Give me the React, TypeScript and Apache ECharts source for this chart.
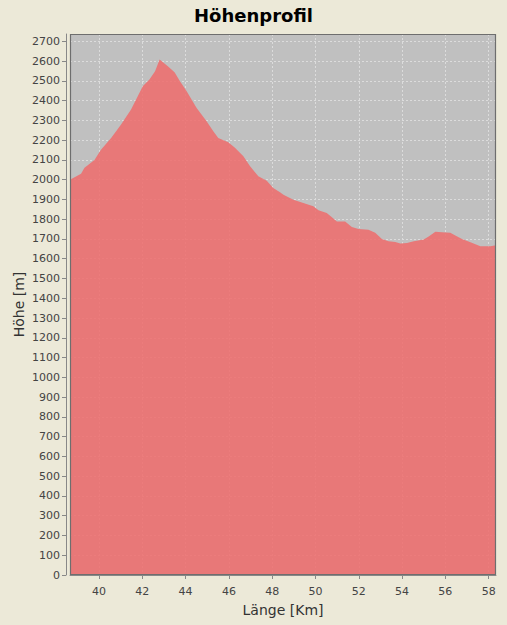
import React, { useEffect, useRef } from "react";
import * as echarts from "echarts";

const distanceKm = [
  38.66, 39.17, 39.33, 39.79, 40.09, 40.56, 41.02, 41.48, 41.79, 42.02, 42.33, 42.59, 42.8,
  43.18, 43.49, 43.74, 44.05, 44.51, 44.97, 45.28, 45.51, 45.97, 46.28, 46.67, 46.98, 47.36,
  47.75, 48.05, 48.36, 48.52, 48.98, 49.44, 49.9, 50.14, 50.52, 50.76, 50.99, 51.37, 51.68,
  51.99, 52.45, 52.76, 53.07, 53.38, 53.69, 53.92, 54.23, 54.54, 55.0, 55.23, 55.54, 55.85,
  56.23, 56.46, 56.77, 57.16, 57.62, 58.08, 58.34,
];
const elevationM = [
  2000, 2030, 2060, 2100, 2152, 2211, 2279, 2355, 2422, 2473, 2507, 2549, 2608,
  2574, 2543, 2498, 2447, 2363, 2296, 2245, 2211, 2189, 2161, 2118, 2068, 2017,
  1995, 1958, 1936, 1924, 1899, 1882, 1865, 1845, 1832, 1810, 1789, 1789, 1761,
  1751, 1747, 1731, 1700, 1688, 1685, 1677, 1680, 1688, 1697, 1713, 1736, 1734,
  1731, 1717, 1700, 1683, 1663, 1663, 1668,
];
const xTicks = [40, 42, 44, 46, 48, 50, 52, 54, 56, 58];
const yTicks = [
  0, 100, 200, 300, 400, 500, 600, 700, 800, 900, 1000, 1100, 1200, 1300, 1400, 1500, 1600,
  1700, 1800, 1900, 2000, 2100, 2200, 2300, 2400, 2500, 2600, 2700,
];
const xMin = 38.66;
const xMax = 58.34;
const yMin = 0;
const yMax = 2737;

export default function App() {
  const ref = useRef<HTMLDivElement>(null);
  useEffect(() => {
    document.body.style.margin = "0";
    if (!ref.current) return;
    const chart = echarts.init(ref.current, undefined, { renderer: "svg" });
    const font = "DejaVu Sans";
    const gridLeft = 70;
    const gridTop = 34;
    const gridRight = 11;
    const gridBottom = 50;
    const W = 507;
    const H = 625;
    chart.setOption({
      animation: false,
      backgroundColor: "#ECE9D8",
      title: {
        text: "Höhenprofil",
        left: "center",
        top: 1,
        textStyle: { fontFamily: font, fontWeight: "bold", fontSize: 18, color: "#000" },
      },
      grid: {
        left: gridLeft,
        right: gridRight,
        top: gridTop,
        bottom: gridBottom,
        show: true,
        backgroundColor: "#C0C0C0",
        borderWidth: 0,
      },
      xAxis: {
        type: "value",
        min: xMin,
        max: xMax,
        splitNumber: 10,
        offset: 4,
        name: "Länge [Km]",
        nameLocation: "middle",
        nameGap: 24,
        nameMoveOverlap: false,
        nameTextStyle: { fontFamily: font, fontSize: 14, color: "#333" },
        axisLine: { show: true, lineStyle: { color: "#888" } },
        axisTick: { show: true, length: 4, lineStyle: { color: "#888" }, customValues: xTicks },
        axisLabel: {
          fontFamily: font,
          fontSize: 11,
          color: "#444",
          margin: 7,
          customValues: xTicks,
          formatter: (v: number) => String(v),
        },
        splitLine: { show: true, lineStyle: { color: "#DCDCDC", type: [2, 2], width: 1 } },
      },
      yAxis: {
        type: "value",
        min: yMin,
        max: yMax,
        splitNumber: 27,
        offset: 4,
        name: "Höhe [m]",
        nameLocation: "middle",
        nameGap: 40,
        nameMoveOverlap: false,
        nameRotate: 90,
        nameTextStyle: { fontFamily: font, fontSize: 14, color: "#333" },
        axisLine: { show: true, lineStyle: { color: "#888" } },
        axisTick: { show: true, length: 4, lineStyle: { color: "#888" }, customValues: yTicks },
        axisLabel: {
          fontFamily: font,
          fontSize: 11,
          color: "#444",
          margin: 6,
          customValues: yTicks,
          formatter: (v: number) => String(v),
        },
        splitLine: { show: true, lineStyle: { color: "#DCDCDC", type: [2, 2], width: 1 } },
      },
      series: [
        {
          type: "line",
          data: distanceKm.map((d, i) => [d, elevationM[i]]),
          showSymbol: false,
          symbol: "none",
          lineStyle: { width: 0 },
          areaStyle: { color: "#EF6B6B", opacity: 0.85 },
          silent: true,
        },
      ],
      graphic: [
        {
          type: "rect",
          z: 100,
          silent: true,
          shape: {
            x: gridLeft + 0.5,
            y: gridTop + 0.5,
            width: W - gridLeft - gridRight - 1,
            height: H - gridTop - gridBottom - 1,
          },
          style: { fill: "none", stroke: "#6E6E6E", lineWidth: 1.2 },
        },
      ],
    });
    return () => chart.dispose();
  }, []);
  return <div ref={ref} style={{ width: 507, height: 625 }} />;
}
